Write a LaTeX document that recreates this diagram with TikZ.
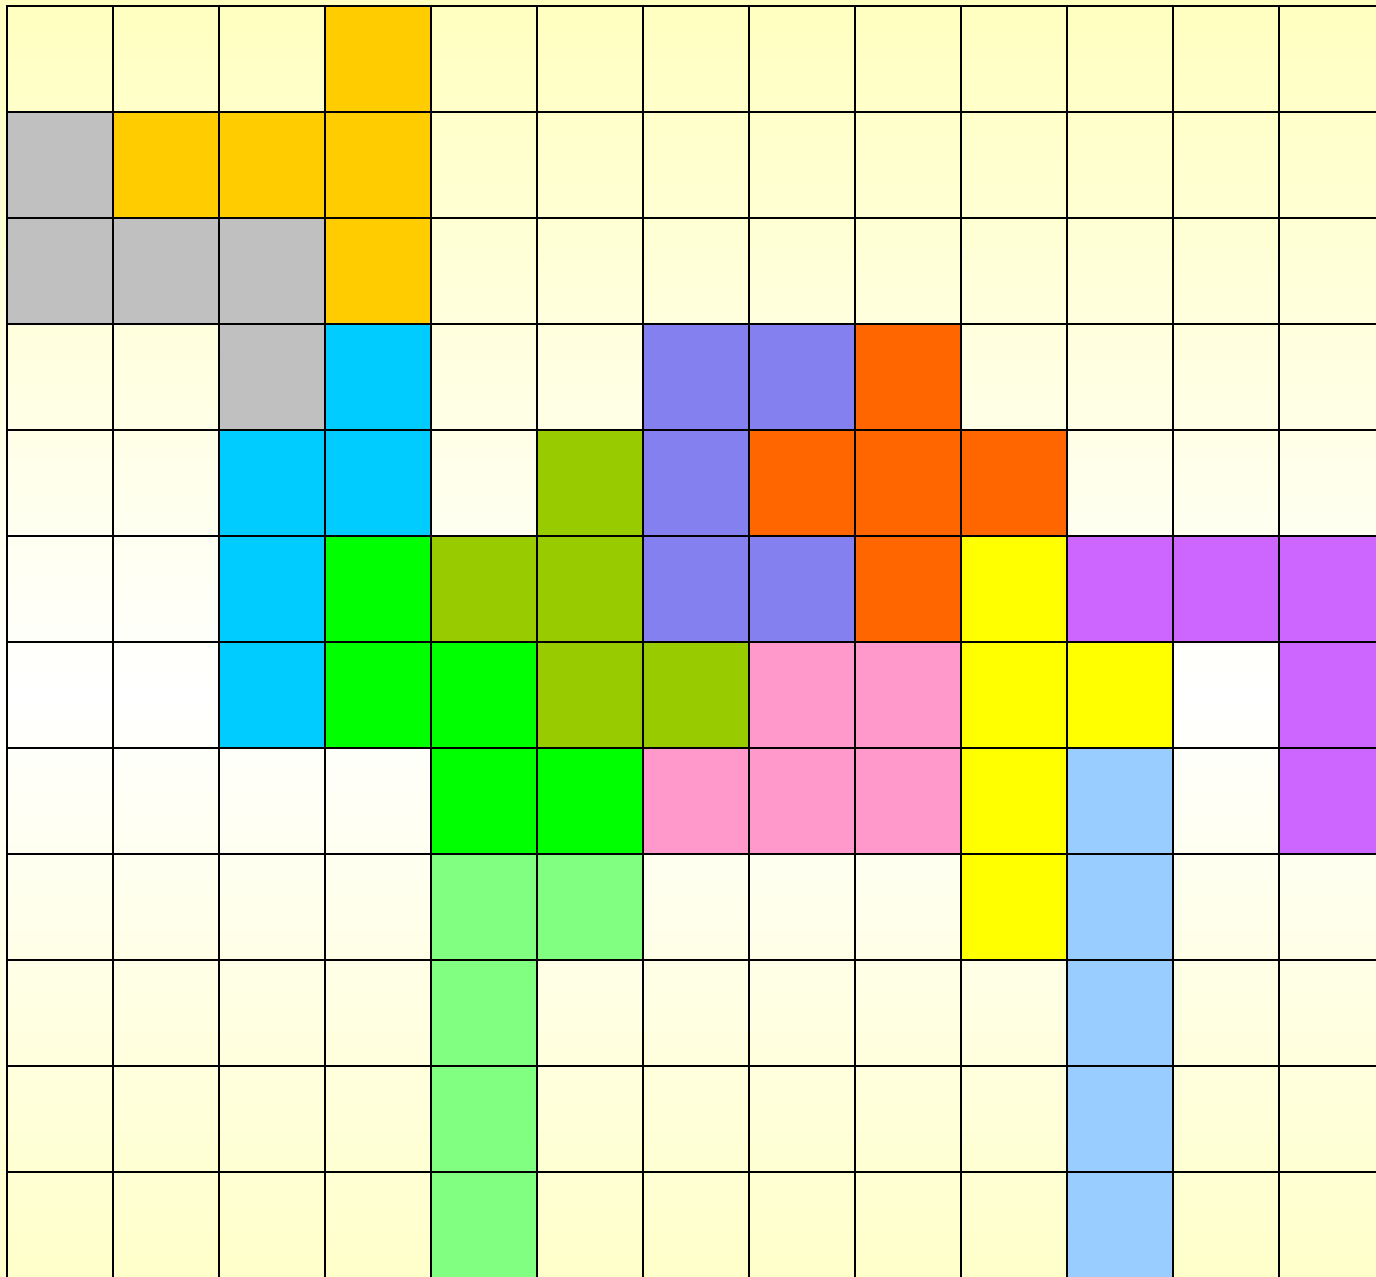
\documentclass[tikz,border=0pt]{standalone}
\definecolor{bgY}{HTML}{FFFFC0}
\definecolor{cGold}{HTML}{FFCC00}
\definecolor{cGray}{HTML}{C0C0C0}
\definecolor{cCyan}{HTML}{00CCFF}
\definecolor{cBlueP}{HTML}{8480F0}
\definecolor{cOrange}{HTML}{FF6600}
\definecolor{cOlive}{HTML}{99CC00}
\definecolor{cGreen}{HTML}{00FF00}
\definecolor{cYellow}{HTML}{FFFF00}
\definecolor{cViolet}{HTML}{CC66FF}
\definecolor{cPink}{HTML}{FF99CC}
\definecolor{cLBlue}{HTML}{99CCFF}
\definecolor{cLGreen}{HTML}{80FF80}
\begin{document}
\begin{tikzpicture}[x=0.5pt,y=-0.5pt,
  gridline/.style={draw=black,line width=1pt,line cap=rect}]
\useasboundingbox (0,0) rectangle (1376,1276);
\clip (0,0) rectangle (1376,1276);
\shade[top color=bgY,bottom color=bgY,middle color=white] (0,0) rectangle (1376,1390);
\foreach \c/\r/\col in {
  3/0/cGold,1/1/cGold,2/1/cGold,3/1/cGold,3/2/cGold,
  0/1/cGray,0/2/cGray,1/2/cGray,2/2/cGray,2/3/cGray,
  3/3/cCyan,2/4/cCyan,3/4/cCyan,2/5/cCyan,2/6/cCyan,
  6/3/cBlueP,7/3/cBlueP,6/4/cBlueP,6/5/cBlueP,7/5/cBlueP,
  8/3/cOrange,7/4/cOrange,8/4/cOrange,9/4/cOrange,8/5/cOrange,
  5/4/cOlive,4/5/cOlive,5/5/cOlive,5/6/cOlive,6/6/cOlive,
  3/5/cGreen,3/6/cGreen,4/6/cGreen,4/7/cGreen,5/7/cGreen,
  9/5/cYellow,9/6/cYellow,10/6/cYellow,9/7/cYellow,9/8/cYellow,
  10/5/cViolet,11/5/cViolet,12/5/cViolet,12/6/cViolet,12/7/cViolet,
  7/6/cPink,8/6/cPink,6/7/cPink,7/7/cPink,8/7/cPink,
  10/7/cLBlue,10/8/cLBlue,10/9/cLBlue,10/10/cLBlue,10/11/cLBlue,10/12/cLBlue,
  4/8/cLGreen,5/8/cLGreen,4/9/cLGreen,4/10/cLGreen,4/11/cLGreen}
  \fill[\col] ({7+106*\c},{6+106*\r}) rectangle ++(106,106);
\foreach \i in {0,...,13}{
  \draw[gridline] ({7+106*\i},6) -- ({7+106*\i},1400);
  \draw[gridline] (7,{6+106*\i}) -- (1400,{6+106*\i});
}
\end{tikzpicture}
\end{document}
